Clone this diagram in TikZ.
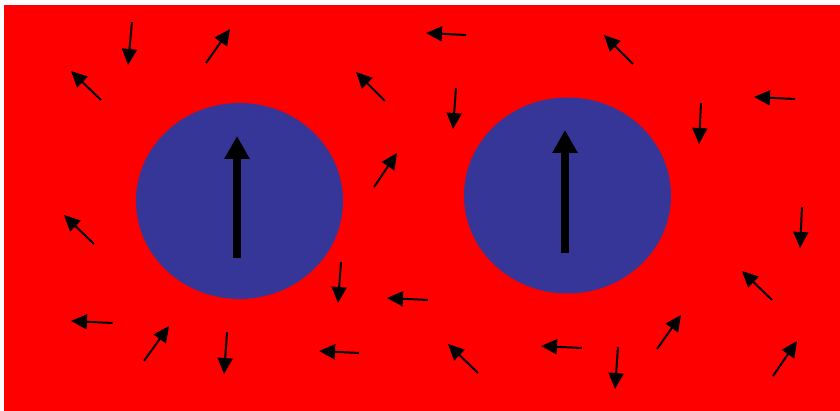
\documentclass[tikz,border=0pt]{standalone}
\usetikzlibrary{arrows.meta}
\definecolor{bgred}{RGB}{255,0,0}
\definecolor{dotblue}{RGB}{54,54,153}
\begin{document}
\begin{tikzpicture}[x=1pt,y=-1pt,
  spin/.style={line width=2pt,-{Triangle[length=16pt,width=15pt]}},
  bigspin/.style={line width=8.5pt,-{Triangle[length=23pt,width=24pt]}}]
\useasboundingbox (0,0) rectangle (840,411);
\fill[white] (0,0) rectangle (840,411);
\fill[bgred] (4,5) rectangle (840,411);
\fill[dotblue] (239.5,201) ellipse [x radius=103.5, y radius=98];
\fill[dotblue] (567.5,195.5) ellipse [x radius=103.5, y radius=98];
\draw[bigspin] (237,258) -- (237,136);
\draw[bigspin] (565,253) -- (565,130);
\foreach \a/\b/\c/\d in {
 132/22/128/65, 206/63/230/29, 101/100/71/71, 466/35/426/33,
 385/101/356/72, 456/88/453/129, 633/64/604/35, 795/99/754/97,
 701/103/699/144, 374/187/397/153, 94/244/64/215, 802/207/800/248,
 341/262/338/303, 428/300/387/298, 772/300/742/271, 113/323/71/321,
 144/361/169/326, 227/332/224/374, 359/353/319/351, 478/373/448/344,
 582/348/541/346, 618/347/615/389, 657/349/681/315, 773/376/797/341}
 \draw[spin] (\a,\b) -- (\c,\d);
\end{tikzpicture}
\end{document}
